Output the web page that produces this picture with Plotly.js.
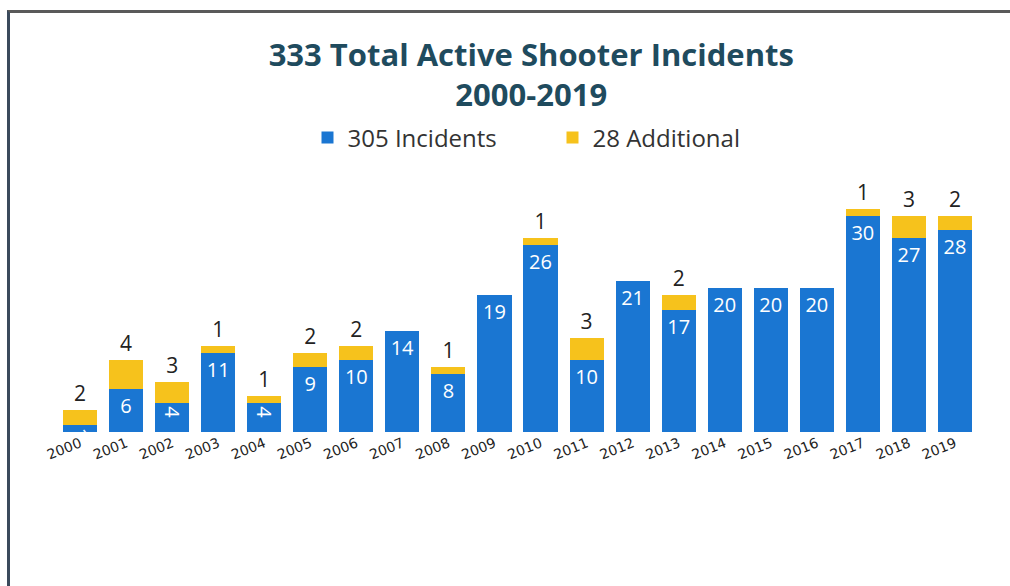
<!DOCTYPE html>
<html>
<head>
<meta charset="utf-8">
<script src="https://cdn.plot.ly/plotly-3.0.1.min.js"></script>
<style>
html,body{margin:0;padding:0;background:#fff;}
#chart{width:1010px;height:586px;}
#frame{position:absolute;left:7px;top:10px;width:1003px;height:576px;border-top:3px solid #5a5a5a;border-left:3px solid #3b4a5c;box-sizing:border-box;pointer-events:none;}
</style>
</head>
<body>
<div id="chart"></div>
<div id="frame"></div>
<script>
const years = ["2000","2001","2002","2003","2004","2005","2006","2007","2008","2009","2010","2011","2012","2013","2014","2015","2016","2017","2018","2019"];
const incidents = [1,6,4,11,4,9,10,14,8,19,26,10,21,17,20,20,20,30,27,28];
const additional = [2,4,3,1,1,2,2,null,1,null,1,3,null,2,null,null,null,1,3,2];
const seriesNames = ["305 Incidents","28 Additional"];

const traceBlue = {
  type:'bar', x:years, y:incidents, name:seriesNames[0],
  marker:{color:'#1a76d2'},
  text:incidents.map(String), textposition:'inside', insidetextanchor:'end',
  constraintext:'none',
  textfont:{family:'Open Sans, sans-serif', size:20, color:'#ffffff'},
  hoverinfo:'x+y'
};
const traceYellow = {
  type:'bar', x:years, y:additional, name:seriesNames[1],
  marker:{color:'#f6c21c'},
  text:additional.map(v=> v==null ? '' : String(v)), textposition:'outside',
  cliponaxis:false,
  textfont:{family:'Open Sans, sans-serif', size:21, color:'#222222'},
  hoverinfo:'x+y'
};

const layout = {
  width:1010, height:586,
  paper_bgcolor:'#ffffff', plot_bgcolor:'#ffffff',
  margin:{l:57, r:32, t:180, b:154},
  barmode:'stack', bargap:0.26,
  title:{text:'333 Total Active Shooter Incidents<br>2000-2019', x:0.526, xanchor:'center', y:0.888, yanchor:'top',
    font:{family:'Open Sans, sans-serif', size:31, color:'#1f4b5e', weight:700}},
  showlegend:true,
  legend:{orientation:'h', traceorder:'normal', x:0.538, xanchor:'center', y:1.167, yanchor:'middle',
    font:{family:'Open Sans, sans-serif', size:24, color:'#333333'}, itemwidth:30, tracegroupgap:0,
    entrywidth:200},
  xaxis:{type:'category', tickangle:-22, showgrid:false, showline:false, zeroline:false, ticks:'',
    tickfont:{family:'DejaVu Sans, sans-serif', size:14, color:'#222222'}},
  yaxis:{range:[0,35], visible:false, showgrid:false, zeroline:false},
  uniformtext:{mode:false}
};

Plotly.newPlot('chart',[traceBlue,traceYellow],layout,{displayModeBar:false, staticPlot:true});
</script>
</body>
</html>
